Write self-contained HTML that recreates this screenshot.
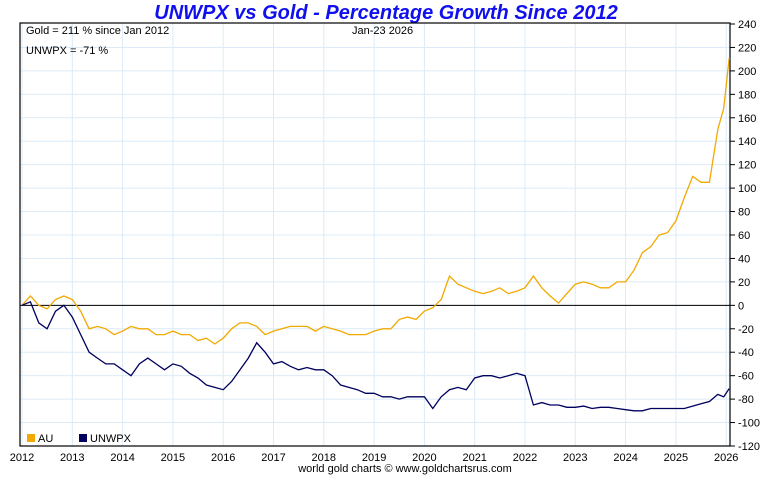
<!DOCTYPE html>
<html><head><meta charset="utf-8"><style>
body{margin:0;background:#fff;font-family:"Liberation Sans",sans-serif}
svg text{font-family:"Liberation Sans",sans-serif}
</style></head><body>
<svg id="c" width="772" height="475" xmlns="http://www.w3.org/2000/svg">
<text x="386" y="19" text-anchor="middle" font-size="20" font-weight="bold" font-style="italic" fill="#1010ee">UNWPX vs Gold - Percentage Growth Since 2012</text>
<g id="grid"></g>
<rect x="20" y="23" width="710" height="423" fill="none" stroke="#000" stroke-width="1.2"/>
<g id="series"></g>
<text x="26" y="34" font-size="11">Gold = 211 % since Jan 2012</text>
<text x="26" y="54" font-size="11">UNWPX = -71 %</text>
<text x="352" y="34" font-size="11">Jan-23  2026</text>
<g>
<rect x="27" y="434" width="8" height="8" fill="#f2a900"/>
<text x="38" y="442" font-size="11">AU</text>
<rect x="79" y="434" width="8" height="8" fill="#00005e"/>
<text x="90" y="442" font-size="11">UNWPX</text>
</g>
<text x="405" y="472" text-anchor="middle" font-size="11">world gold charts © www.goldchartsrus.com</text>
</svg>
<script>
const yTicks=[-120,-100,-80,-60,-40,-20,0,20,40,60,80,100,120,140,160,180,200,220,240];
const xTicks=[2012,2013,2014,2015,2016,2017,2018,2019,2020,2021,2022,2023,2024,2025,2026];
const goldVals=[0,8,0,-3,5,8, 5,-5,-20,-18,-20,-25, -22,-18,-20,-20,-25,-25, -22,-25,-25,-30,-28,-33, -28,-20,-15,-15,-18,-25, -22,-20,-18,-18,-18,-22, -18,-20,-22,-25,-25,-25, -22,-20,-20,-12,-10,-12, -5,-2,5,25,18,15, 12,10,12,15,10,12, 15,25,15,8,2,10, 18,20,18,15,15,20, 20,30,45,50,60,62, 72,92,110,105,105,150, 168,211];
const unwpxVals=[0,3,-15,-20,-5,0, -10,-25,-40,-45,-50,-50, -55,-60,-50,-45,-50,-55, -50,-52,-58,-62,-68,-70, -72,-65,-55,-45,-32,-40, -50,-48,-52,-55,-53,-55, -55,-60,-68,-70,-72,-75, -75,-78,-78,-80,-78,-78, -78,-88,-78,-72,-70,-72, -62,-60,-60,-62,-60,-58, -60,-85,-83,-85,-85,-87, -87,-86,-88,-87,-87,-88, -89,-90,-90,-88,-88,-88, -88,-88,-86,-84,-82,-76, -78,-71];
function tOf(i,n){return i<n-2?2012+i/6:(i===n-2?2025.95:2026.06);}
const X=t=>22+(t-2012)*50.3;
const Y=v=>24+(240-v)*422/360;
const NS="http://www.w3.org/2000/svg";
const grid=document.getElementById('grid'),svg=document.getElementById('c'),ser=document.getElementById('series');
function mk(tag,at,par){const e=document.createElementNS(NS,tag);for(const k in at)e.setAttribute(k,at[k]);par.appendChild(e);return e;}
yTicks.forEach(v=>{
 if(v>-120&&v<240){const l=mk('line',{x1:20,x2:730,y1:Y(v),y2:Y(v),stroke:'#dcebf7','stroke-width':1},grid);
 
 }
 const tk=mk('line',{x1:730,x2:735,y1:Y(v),y2:Y(v),stroke:'#000'},svg);
 
 
 const t=mk('text',{x:738,y:Y(v)+4,'font-size':11},svg);t.textContent=v;
 
 
});
xTicks.forEach(y=>{
 const l=mk('line',{x1:X(y),x2:X(y),y1:23,y2:446,stroke:'#dcebf7'},grid);
 
 
 const t=mk('text',{x:X(y),y:461,'font-size':11,'text-anchor':'middle'},svg);t.textContent=y;
 
 
});
const z=mk('line',{x1:20,x2:730,y1:Y(0),y2:Y(0),stroke:'#000','stroke-width':1},ser);


function line(vals,col,name){
 const pts=vals.map((v,i)=>X(tOf(i,vals.length)).toFixed(1)+','+Y(v).toFixed(1)).join(' ');
 const p=mk('polyline',{points:pts,fill:'none',stroke:col,'stroke-width':1.3},ser);
 
 
}
line(goldVals,'#f2a900','au-line');
line(unwpxVals,'#00005e','unwpx-line');
</script>
</body></html>
